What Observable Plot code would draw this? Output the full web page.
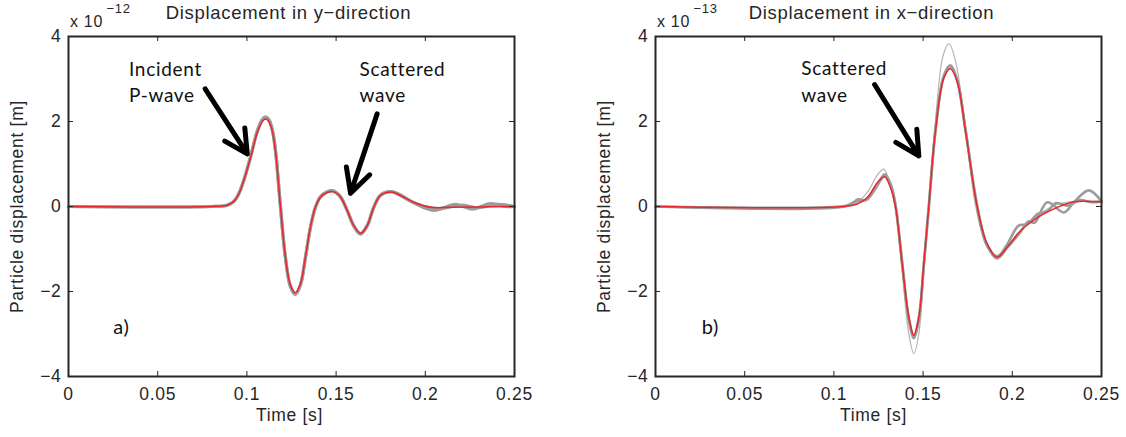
<!DOCTYPE html>
<html><head><meta charset="utf-8">
<script src="https://cdn.jsdelivr.net/npm/d3@7"></script>
<script src="https://cdn.jsdelivr.net/npm/@observablehq/plot@0.6"></script>
<style>
body{margin:0;background:#fff}
#wrap{display:flex;width:1126px;height:437px;overflow:hidden}
.p text{letter-spacing:0.7px}
</style>
</head><body><div id="wrap"></div>
<script>
// ---- ticks ----
const xTicks = [0, 0.05, 0.1, 0.15, 0.2, 0.25];
const yTicks = [-4, -2, 0, 2, 4];

// ---- panel a) displacement in y-direction (units 1e-12 m) ----
const tA_red = [0, 0.08, 0.0889, 0.0927, 0.0955, 0.0983, 0.102, 0.1058, 0.1086, 0.1104, 0.1123, 0.1142, 0.116, 0.1188, 0.1216, 0.1244, 0.1272, 0.13, 0.1328, 0.1356, 0.1384, 0.1412, 0.145, 0.1484, 0.1525, 0.1562, 0.1599, 0.1637, 0.1674, 0.1711, 0.1749, 0.1809, 0.1861, 0.1935, 0.2029, 0.2141, 0.25];
const vA_red = [0, 0, 0.03, 0.12, 0.30, 0.61, 1.14, 1.74, 2.00, 2.06, 2.00, 1.78, 1.31, 0, -1.19, -1.85, -2.03, -1.82, -1.19, -0.49, -0.02, 0.22, 0.33, 0.35, 0.22, -0.09, -0.45, -0.63, -0.45, -0.02, 0.26, 0.34, 0.26, 0.10, -0.02, -0.02, 0];
const tA_g1 = [0, 0.08, 0.0889, 0.0927, 0.0955, 0.0983, 0.102, 0.1058, 0.1086, 0.1104, 0.1123, 0.1142, 0.116, 0.1188, 0.1216, 0.1244, 0.1272, 0.13, 0.1328, 0.1356, 0.1384, 0.1412, 0.145, 0.1484, 0.1525, 0.1562, 0.1599, 0.1637, 0.1674, 0.1711, 0.1749, 0.1809, 0.1861, 0.1935, 0.2048, 0.2169, 0.2263, 0.2365, 0.245, 0.25];
const vA_g1 = [0, 0, 0.03, 0.12, 0.31, 0.63, 1.17, 1.78, 2.05, 2.11, 2.05, 1.82, 1.33, 0, -1.21, -1.89, -2.07, -1.86, -1.21, -0.50, -0.02, 0.23, 0.35, 0.37, 0.23, -0.09, -0.46, -0.65, -0.46, -0.02, 0.27, 0.35, 0.27, 0.09, -0.09, 0.05, -0.06, 0.07, 0, 0];
const tA_g2 = [0, 0.08, 0.0889, 0.0927, 0.0955, 0.0983, 0.102, 0.1058, 0.1086, 0.1104, 0.1123, 0.1142, 0.116, 0.1188, 0.1216, 0.1244, 0.1272, 0.13, 0.1328, 0.1356, 0.1384, 0.1412, 0.145, 0.1484, 0.1525, 0.1562, 0.1599, 0.1637, 0.1674, 0.1711, 0.1749, 0.1809, 0.1861, 0.1935, 0.207, 0.22, 0.23, 0.24, 0.25];
const vA_g2 = [0, 0, 0.03, 0.12, 0.30, 0.62, 1.15, 1.76, 2.03, 2.09, 2.03, 1.80, 1.32, 0, -1.20, -1.87, -2.05, -1.84, -1.20, -0.49, -0.02, 0.22, 0.34, 0.36, 0.22, -0.09, -0.45, -0.64, -0.45, -0.02, 0.26, 0.35, 0.26, 0.09, -0.05, 0.03, -0.03, 0.05, 0];

// ---- panel b) displacement in x-direction (units 1e-13 m) ----
const tB_red = [0, 0.1056, 0.1131, 0.1187, 0.1243, 0.1284, 0.1317, 0.1345, 0.1383, 0.142, 0.1448, 0.1476, 0.1504, 0.1532, 0.1569, 0.1616, 0.1653, 0.1691, 0.1738, 0.1803, 0.1859, 0.1915, 0.1971, 0.2046, 0.214, 0.2252, 0.2345, 0.2438, 0.25];
const vB_red = [0, 0, 0.06, 0.21, 0.56, 0.70, 0.45, 0, -1.35, -2.6, -3.03, -2.6, -1.35, 0, 1.77, 3.02, 3.24, 2.94, 1.77, 0, -0.88, -1.19, -0.96, -0.57, -0.26, -0.02, 0.11, 0.12, 0.11];
const tB_out = [0, 0.106, 0.113, 0.119, 0.1245, 0.128, 0.1315, 0.1345, 0.1383, 0.142, 0.1448, 0.1476, 0.1504, 0.1532, 0.157, 0.1612, 0.1645, 0.168, 0.1735, 0.1795, 0.1858, 0.1915, 0.1975, 0.205, 0.214, 0.225, 0.235, 0.25];
const vB_out = [0, 0, 0.1, 0.35, 0.75, 0.88, 0.5, -0.05, -1.55, -3.0, -3.46, -3.0, -1.5, 0, 2.05, 3.55, 3.83, 3.45, 1.95, 0, -0.95, -1.15, -0.92, -0.55, -0.22, 0.05, 0.12, 0.12];
const tB_g1 = [0, 0.104, 0.1095, 0.1135, 0.118, 0.123, 0.1285, 0.132, 0.1345, 0.1383, 0.142, 0.1448, 0.1476, 0.1504, 0.1532, 0.157, 0.1616, 0.1653, 0.169, 0.1738, 0.1803, 0.1859, 0.1915, 0.1975, 0.2046, 0.209, 0.2125, 0.2196, 0.2289, 0.2345, 0.2429, 0.25];
const vB_g1 = [0, 0, 0.05, 0.17, 0.15, 0.4, 0.76, 0.5, 0.05, -1.32, -2.68, -3.1, -2.68, -1.38, 0, 1.82, 3.08, 3.32, 3.0, 1.8, 0.02, -0.92, -1.22, -0.95, -0.6, -0.35, -0.38, 0.1, -0.14, 0.1, 0.38, 0.12];
const tB_g2 = [0, 0.106, 0.112, 0.1175, 0.1235, 0.1285, 0.132, 0.1345, 0.1383, 0.142, 0.1448, 0.1476, 0.1504, 0.1532, 0.157, 0.1616, 0.1653, 0.169, 0.1738, 0.1803, 0.1859, 0.1915, 0.197, 0.2035, 0.2085, 0.214, 0.2195, 0.2245, 0.231, 0.238, 0.2445, 0.25];
const vB_g2 = [0, 0, 0.12, 0.15, 0.45, 0.72, 0.48, 0.02, -1.36, -2.62, -3.05, -2.62, -1.36, 0, 1.8, 3.05, 3.3, 2.98, 1.78, 0, -0.9, -1.18, -0.9, -0.45, -0.42, -0.18, -0.12, 0.08, 0.02, 0.15, 0.1, 0.12];

// ---- annotations (data coordinates) ----
const notesA = [{t: 0.0339, v: 2.96, text: "Incident\nP-wave"}, {t: 0.1631, v: 2.96, text: "Scattered\nwave"}];
const notesB = [{t: 0.0817, v: 2.97, text: "Scattered\nwave"}];
const panelA = [{t: 0.0297, v: -2.86, text: "a)"}];
const panelB = [{t: 0.0308, v: -2.86, text: "b)"}];
const arrowsA = [{x1: 0.0766, y1: 2.77, x2: 0.1002, y2: 1.24}, {x1: 0.1730, y1: 2.18, x2: 0.1581, y2: 0.31}];
const arrowsB = [{x1: 0.1228, y1: 2.87, x2: 0.1476, y2: 1.19}];

const series = (id, t, v) => t.map((d, i) => ({id, t: d, v: v[i]}));
const fmtX = d => String(d);
const fmtY = d => d < 0 ? "\u2212" + Math.abs(d) : String(d);
const INK = "#262626";
const ANNFONT = "Lato";
const CURVE = "catmull-rom";

function panel({title, titleDx, timeDx, exponent, red, grays, grayThin, notes, arrows, tag, marginLeft, marginRight, grayWidth}) {
  return Plot.plot({
    width: 563, height: 437,
    marginLeft, marginRight, marginTop: 36, marginBottom: 61,
    className: "p",
    style: {fontFamily: "Liberation Sans, Arial, sans-serif", background: "#fff", color: INK},
    x: {domain: [0, 0.25]},
    y: {domain: [-4, 4]},
    marks: [
      grayThin ? Plot.line(grayThin, {x: "t", y: "v", z: "id", stroke: "#b4b4b4", strokeWidth: 1.2, curve: CURVE}) : null,
      Plot.line(grays, {x: "t", y: "v", z: "id", stroke: "#9c9c9c", strokeWidth: grayWidth, curve: CURVE}),
      Plot.line(red, {x: "t", y: "v", stroke: "#e8262b", strokeWidth: 1.5, curve: CURVE}),
      Plot.frame({stroke: INK, strokeWidth: 2}),
      Plot.tickX(xTicks, {x: d => d, insetTop: 335, stroke: INK}),
      Plot.tickX(xTicks, {x: d => d, insetBottom: 335, stroke: INK}),
      Plot.tickY(yTicks, {y: d => d, insetRight: 441, stroke: INK}),
      Plot.tickY(yTicks, {y: d => d, insetLeft: 441, stroke: INK}),
      Plot.axisX(xTicks, {tickSize: 0, tickPadding: 11, tickFormat: fmtX, fontSize: 17.5, fill: INK, label: null}),
      Plot.axisY(yTicks, {tickSize: 0, tickPadding: 7, tickFormat: fmtY, fontSize: 17.5, fill: INK, label: null}),
      Plot.text(["Time [s]"], {frameAnchor: "bottom", dy: 39, dx: timeDx, lineAnchor: "middle", fontSize: 17.5, fill: INK}),
      Plot.text(["Particle displacement [m]"], {frameAnchor: "left", dx: -51, rotate: -90, textAnchor: "middle", lineAnchor: "middle", fontSize: 17.5, fill: INK}),
      Plot.text([title], {frameAnchor: "top", dy: -23.5, dx: titleDx, lineAnchor: "middle", fontSize: 18.5, fill: INK}),
      Plot.text(["x 10"], {frameAnchor: "top-left", dx: 1.5, dy: -15, textAnchor: "start", lineAnchor: "middle", fontSize: 16, fill: INK}),
      Plot.text([exponent], {frameAnchor: "top-left", dx: 38, dy: -27.5, textAnchor: "start", lineAnchor: "middle", fontSize: 13, fill: INK}),
      Plot.text(notes, {x: "t", y: "v", text: "text", textAnchor: "start", lineAnchor: "middle", lineHeight: 1.4, fontSize: 19, fontFamily: ANNFONT, fill: "#111"}),
      Plot.text(tag, {x: "t", y: "v", text: "text", textAnchor: "middle", lineAnchor: "middle", fontSize: 20, fontFamily: ANNFONT, fill: "#111"}),
      Plot.arrow(arrows, {x1: "x1", y1: "y1", x2: "x2", y2: "y2", stroke: "#000", strokeWidth: 5, headAngle: 55, headLength: 8})
    ]
  });
}

const wrap = document.getElementById("wrap");
wrap.append(panel({
  title: "Displacement in y\u2212direction", titleDx: -3, timeDx: -2, exponent: "\u221212",
  red: series("red", tA_red, vA_red),
  grays: [...series("g1", tA_g1, vA_g1), ...series("g2", tA_g2, vA_g2)],
  grayThin: null, grayWidth: 3.2,
  notes: notesA, arrows: arrowsA, tag: panelA,
  marginLeft: 68, marginRight: 49
}));
wrap.append(panel({
  title: "Displacement in x\u2212direction", titleDx: -7, timeDx: -5, exponent: "\u221213",
  red: series("red", tB_red, vB_red),
  grays: [...series("g1", tB_g1, vB_g1), ...series("g2", tB_g2, vB_g2)],
  grayThin: series("out", tB_out, vB_out), grayWidth: 2.6,
  notes: notesB, arrows: arrowsB, tag: panelB,
  marginLeft: 92, marginRight: 25
}));
</script>
</body></html>
